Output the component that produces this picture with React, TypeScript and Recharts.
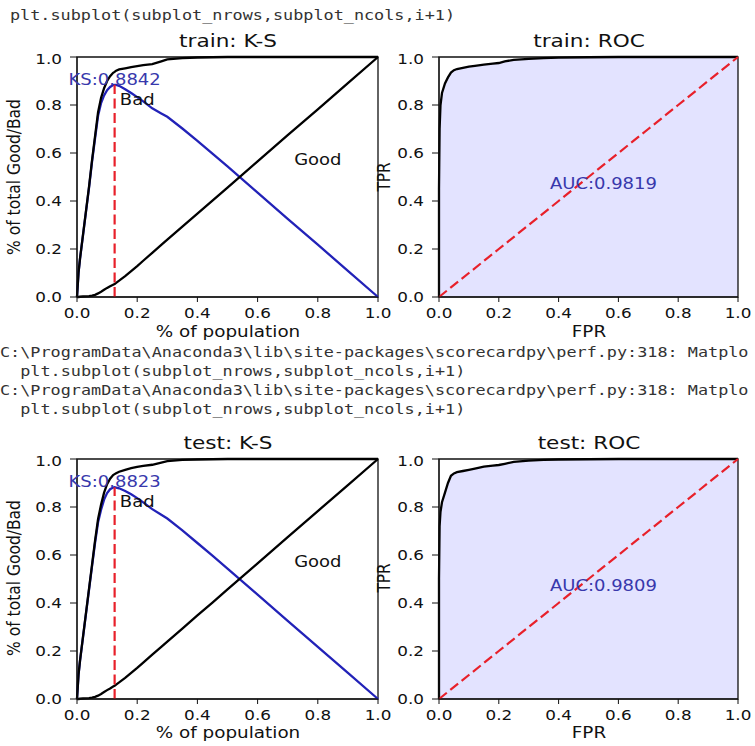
import {
  Area,
  ComposedChart,
  Line,
  ReferenceArea,
  ReferenceLine,
  Scatter,
  XAxis,
  YAxis,
} from "recharts";

// K-S panels: share of population on x, cumulative bad / good and their gap
const ksPop = [
  0, 0.005, 0.01, 0.02, 0.03, 0.04, 0.05, 0.06, 0.07, 0.08, 0.09, 0.1, 0.11,
  0.12, 0.125, 0.13, 0.14, 0.16, 0.18, 0.2, 0.22, 0.25, 0.28, 0.3, 0.35, 0.4,
  0.45, 0.5, 0.6, 0.7, 0.8, 0.9, 1,
];
const trainBad = [
  0, 0.1, 0.16, 0.26, 0.36, 0.46, 0.57, 0.67, 0.77, 0.83, 0.87, 0.9, 0.92,
  0.934, 0.938, 0.943, 0.948, 0.953, 0.958, 0.962, 0.966, 0.97, 0.982, 0.99,
  0.995, 0.998, 0.999, 1, 1, 1, 1, 1, 1,
];
const trainGood = [
  0, 0, 0.001, 0.002, 0.003, 0.004, 0.006, 0.009, 0.015, 0.022, 0.03, 0.038,
  0.045, 0.051, 0.054, 0.059, 0.068, 0.087, 0.108, 0.129, 0.151, 0.184, 0.217,
  0.239, 0.293, 0.347, 0.402, 0.456, 0.565, 0.674, 0.782, 0.891, 1,
];
const trainKs = [
  0, 0.1, 0.159, 0.258, 0.357, 0.456, 0.564, 0.661, 0.755, 0.808, 0.84, 0.862,
  0.875, 0.883, 0.8842, 0.884, 0.88, 0.866, 0.85, 0.833, 0.815, 0.786, 0.765,
  0.751, 0.702, 0.651, 0.597, 0.544, 0.435, 0.326, 0.218, 0.109, 0,
];
const testBad = [
  0, 0.1, 0.16, 0.26, 0.36, 0.46, 0.56, 0.66, 0.75, 0.81, 0.86, 0.895, 0.918,
  0.933, 0.937, 0.941, 0.947, 0.955, 0.962, 0.967, 0.971, 0.976, 0.985, 0.991,
  0.996, 0.998, 0.999, 1, 1, 1, 1, 1, 1,
];
const testGood = [
  0, 0, 0.001, 0.002, 0.003, 0.004, 0.006, 0.009, 0.014, 0.021, 0.029, 0.037,
  0.044, 0.052, 0.055, 0.06, 0.069, 0.088, 0.109, 0.13, 0.152, 0.185, 0.217,
  0.239, 0.293, 0.348, 0.402, 0.457, 0.565, 0.674, 0.783, 0.891, 1,
];
const testKs = [
  0, 0.1, 0.159, 0.258, 0.357, 0.456, 0.554, 0.651, 0.736, 0.789, 0.831, 0.858,
  0.874, 0.881, 0.8823, 0.881, 0.878, 0.867, 0.853, 0.837, 0.819, 0.791, 0.768,
  0.752, 0.703, 0.65, 0.597, 0.543, 0.435, 0.326, 0.217, 0.109, 0,
];
const trainKsAt = 0.125;
const trainKsMax = 0.8842;
const testKsAt = 0.125;
const testKsMax = 0.8823;

// ROC panels
const trainFpr = [
  0, 0, 0.002, 0.005, 0.01, 0.02, 0.03, 0.04, 0.05, 0.06, 0.08, 0.1, 0.12,
  0.15, 0.18, 0.2, 0.22, 0.25, 0.3, 0.35, 0.4, 0.5, 0.6, 0.8, 1,
];
const trainTpr = [
  0, 0.45, 0.7, 0.8, 0.85, 0.89, 0.915, 0.935, 0.945, 0.95, 0.955, 0.96, 0.963,
  0.968, 0.972, 0.975, 0.982, 0.988, 0.992, 0.995, 0.997, 0.999, 1, 1, 1,
];
const testFpr = [
  0, 0, 0.002, 0.005, 0.01, 0.02, 0.03, 0.04, 0.05, 0.06, 0.08, 0.1, 0.12,
  0.15, 0.18, 0.2, 0.22, 0.25, 0.3, 0.35, 0.4, 0.5, 0.6, 0.8, 1,
];
const testTpr = [
  0, 0.5, 0.72, 0.78, 0.82, 0.86, 0.9, 0.93, 0.94, 0.945, 0.95, 0.955, 0.96,
  0.968, 0.972, 0.975, 0.98, 0.988, 0.993, 0.996, 0.998, 0.999, 1, 1, 1,
];
const diagonal = [0, 0.1, 0.2, 0.3, 0.4, 0.5, 0.6, 0.7, 0.8, 0.9, 1];
const trainAuc = 0.9819;
const testAuc = 0.9809;

const axisTicks = [0, 0.2, 0.4, 0.6, 0.8, 1];

const consoleCall = "plt.subplot(subplot_nrows,subplot_ncols,i+1)";
const consoleWarn =
  "C:\\ProgramData\\Anaconda3\\lib\\site-packages\\scorecardpy\\perf.py:318: Matplo";

const FONT = "'DejaVu Sans', sans-serif";
const SX = 1.2; // the screenshot is stretched sideways
const BLUE = "#2222b8";
const BLUE_TEXT = "#3838ac";
const RED = "#e8202a";
const DASH = "10 4.5";

function SvgText({ x, y, size, anchor = "middle", dy = "0", fill = "#111", children }: any) {
  return (
    <text
      transform={`translate(${x},${y}) scale(${SX},1)`}
      textAnchor={anchor}
      dy={dy}
      fontSize={size}
      fontFamily={FONT}
      fill={fill}
    >
      {children}
    </text>
  );
}

const fmt = (v: number) => v.toFixed(1);
const XTick = (p: any) => (
  <SvgText x={p.x} y={p.y} size={14} dy="0.71em">
    {fmt(p.payload.value)}
  </SvgText>
);
const YTick = (p: any) => (
  <SvgText x={p.x} y={p.y} size={14} anchor="end" dy="0.36em">
    {fmt(p.payload.value)}
  </SvgText>
);
const noteShape = (p: any) => (
  <SvgText x={p.cx} y={p.cy} size={15} fill={p.payload.color}>
    {p.payload.text}
  </SvgText>
);

function Caption({ x, y, text, size, rotate = false }: any) {
  return (
    <div
      style={{
        position: "absolute",
        left: x,
        top: y,
        transform: `translate(-50%,-50%) ${rotate ? "rotate(-90deg) scaleY(1.1)" : `scaleX(${SX})`}`,
        fontFamily: FONT,
        fontSize: size,
        lineHeight: 1,
        whiteSpace: "nowrap",
        color: "#111",
      }}
    >
      {text}
    </div>
  );
}

function ConsoleLine({ x, y, text }: any) {
  return (
    <div
      style={{
        position: "absolute",
        left: x,
        top: y - 9,
        lineHeight: "18px",
        fontFamily: "'DejaVu Sans Mono', monospace",
        fontSize: 14,
        color: "#333",
        whiteSpace: "pre",
        transform: "scaleX(1.2)",
        transformOrigin: "0 50%",
      }}
    >
      {text}
    </div>
  );
}

const frame = (
  <ReferenceArea x1={0} x2={1} y1={0} y2={1} fill="none" stroke="#111" strokeWidth={1.3} />
);

function axes(yWidth: number) {
  return [
    <XAxis
      key="x"
      type="number"
      dataKey="x"
      domain={[0, 1]}
      ticks={axisTicks}
      tick={XTick}
      tickSize={5}
      tickMargin={6}
      height={30}
      stroke="#111"
    />,
    <YAxis
      key="y"
      type="number"
      domain={[0, 1]}
      ticks={axisTicks}
      tick={YTick}
      tickSize={7}
      tickMargin={8}
      width={yWidth}
      stroke="#111"
    />,
  ];
}

function KsPanel({ left, top, bad, good, ks, at, max }: any) {
  const rows = ksPop.map((x, i) => ({ x, bad: bad[i], good: good[i], ks: ks[i] }));
  const notes = [
    { x: 0.2, y: 0.8, text: "Bad", color: "#111" },
    { x: 0.8, y: 0.55, text: "Good", color: "#111" },
    { x: at, y: max, text: `KS:${max}`, color: BLUE_TEXT },
  ];
  return (
    <div style={{ position: "absolute", left, top }}>
      <ComposedChart
        width={395}
        height={280}
        data={rows}
        margin={{ top: 7, right: 17, bottom: 3, left: 37 }}
      >
        {axes(40)}
        <Line type="linear" dataKey="ks" stroke={BLUE} strokeWidth={2.3} dot={false} activeDot={false} isAnimationActive={false} />
        <Line type="linear" dataKey="good" stroke="#000" strokeWidth={2.3} dot={false} activeDot={false} isAnimationActive={false} />
        <Line type="linear" dataKey="bad" stroke="#000" strokeWidth={2.3} dot={false} activeDot={false} isAnimationActive={false} />
        <ReferenceLine
          segment={[
            { x: at, y: 0 },
            { x: at, y: max },
          ]}
          stroke={RED}
          strokeWidth={2.2}
          strokeDasharray={DASH}
        />
        <Scatter data={notes} dataKey="y" shape={noteShape} isAnimationActive={false} />
        {frame}
      </ComposedChart>
    </div>
  );
}

function RocPanel({ left, top, fpr, tpr, auc }: any) {
  const rows = fpr.map((x: number, i: number) => ({ x, y: tpr[i] }));
  const diag = diagonal.map((x) => ({ x, y: x }));
  const notes = [{ x: 0.55, y: 0.45, text: `AUC:${auc}`, color: BLUE_TEXT }];
  return (
    <div style={{ position: "absolute", left, top }}>
      <ComposedChart
        width={360}
        height={280}
        data={rows}
        margin={{ top: 7, right: 17, bottom: 3, left: 9 }}
      >
        {axes(35)}
        <Area type="linear" dataKey="y" fill="#0000ff" fillOpacity={0.11} stroke="none" isAnimationActive={false} activeDot={false} />
        <Line type="linear" dataKey="y" stroke="#000" strokeWidth={2.3} dot={false} activeDot={false} isAnimationActive={false} />
        <Line type="linear" data={diag} dataKey="y" stroke={RED} strokeWidth={2.2} strokeDasharray={DASH} dot={false} activeDot={false} isAnimationActive={false} />
        <Scatter data={notes} dataKey="y" shape={noteShape} isAnimationActive={false} />
        {frame}
      </ComposedChart>
    </div>
  );
}

export default function App() {
  return (
    <div
      style={{
        position: "relative",
        width: 755,
        height: 746,
        overflow: "hidden",
        background: "#fff",
      }}
    >
      <style>{"body{margin:0} .recharts-surface{overflow:visible}"}</style>

      <ConsoleLine x={10} y={15} text={consoleCall} />

      <Caption x={227.5} y={41} text="train: K-S" size={18} />
      <Caption x={588.5} y={41} text="train: ROC" size={18} />
      <KsPanel left={0} top={50} bad={trainBad} good={trainGood} ks={trainKs} at={trainKsAt} max={trainKsMax} />
      <RocPanel left={395} top={50} fpr={trainFpr} tpr={trainTpr} auc={trainAuc} />
      <Caption x={227.5} y={333} text="% of population" size={15.3} />
      <Caption x={588.5} y={333} text="FPR" size={15.3} />
      <Caption x={15} y={177} text="% of total Good/Bad" size={15.5} rotate />
      <Caption x={385} y={177} text="TPR" size={15.3} rotate />

      <ConsoleLine x={0} y={352} text={consoleWarn} />
      <ConsoleLine x={0} y={371} text={"  " + consoleCall} />
      <ConsoleLine x={0} y={390} text={consoleWarn} />
      <ConsoleLine x={0} y={409} text={"  " + consoleCall} />

      <Caption x={227.5} y={443} text="test: K-S" size={18} />
      <Caption x={588.5} y={443} text="test: ROC" size={18} />
      <KsPanel left={0} top={452} bad={testBad} good={testGood} ks={testKs} at={testKsAt} max={testKsMax} />
      <RocPanel left={395} top={452} fpr={testFpr} tpr={testTpr} auc={testAuc} />
      <Caption x={227.5} y={734} text="% of population" size={15.3} />
      <Caption x={588.5} y={734} text="FPR" size={15.3} />
      <Caption x={15} y={578} text="% of total Good/Bad" size={15.5} rotate />
      <Caption x={385} y={578} text="TPR" size={15.3} rotate />
    </div>
  );
}
